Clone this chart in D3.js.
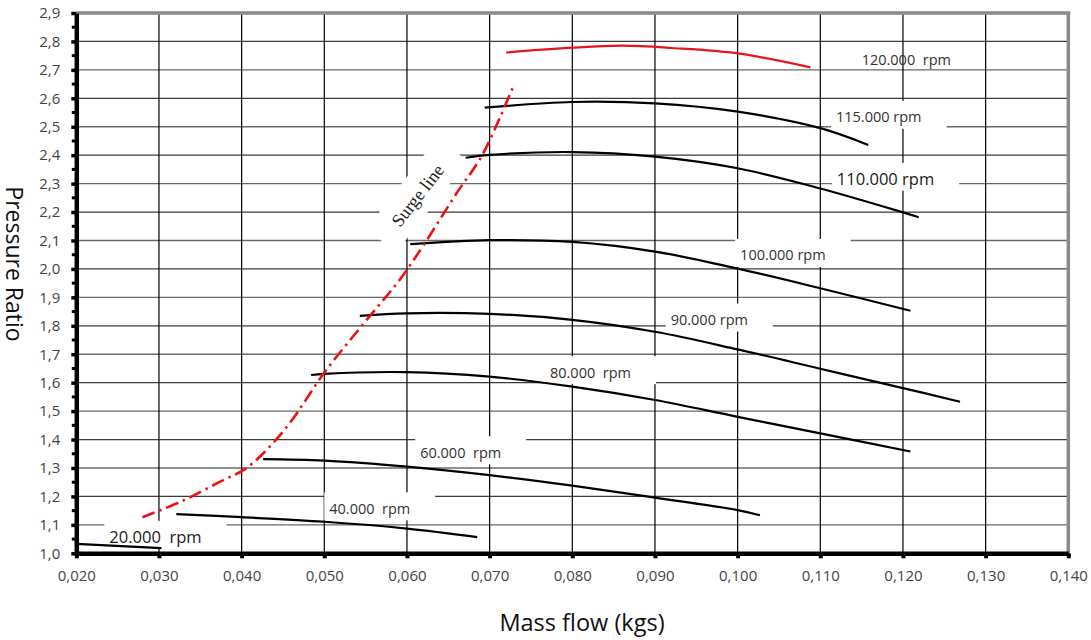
<!DOCTYPE html>
<html><head><meta charset="utf-8">
<script src="https://cdn.jsdelivr.net/npm/d3@7"></script>
<style>body{margin:0;background:#fff}</style>
</head><body><svg id="c" width="1091" height="640"></svg>
<script>
// ---------- data ----------
const xTicks = [0.020,0.030,0.040,0.050,0.060,0.070,0.080,0.090,0.100,0.110,0.120,0.130,0.140];
const yTicks = [1.0,1.1,1.2,1.3,1.4,1.5,1.6,1.7,1.8,1.9,2.0,2.1,2.2,2.3,2.4,2.5,2.6,2.7,2.8,2.9];

const flow20  = [0.0200, 0.0303];
const pr20    = [1.033, 1.018];
const flow40  = [0.0321, 0.040, 0.050, 0.060, 0.0685];
const pr40    = [1.138, 1.127, 1.111, 1.087, 1.057];
const flow60  = [0.0426, 0.050, 0.060, 0.070, 0.080, 0.090, 0.100, 0.1027];
const pr60    = [1.331, 1.326, 1.305, 1.275, 1.238, 1.196, 1.152, 1.134];
const flow80  = [0.0484, 0.050, 0.060, 0.070, 0.080, 0.090, 0.100, 0.110, 0.1209];
const pr80    = [1.627, 1.631, 1.637, 1.621, 1.586, 1.539, 1.480, 1.422, 1.358];
const flow90  = [0.0543, 0.060, 0.070, 0.080, 0.090, 0.100, 0.110, 0.120, 0.1269];
const pr90    = [1.835, 1.844, 1.842, 1.821, 1.779, 1.717, 1.649, 1.581, 1.533];
const flow100 = [0.0604, 0.070, 0.080, 0.090, 0.100, 0.110, 0.1209];
const pr100   = [2.087, 2.101, 2.095, 2.061, 2.001, 1.932, 1.853];
const flow110 = [0.0671, 0.070, 0.080, 0.090, 0.100, 0.110, 0.120, 0.1219];
const pr110   = [2.391, 2.401, 2.411, 2.395, 2.354, 2.283, 2.199, 2.182];
const flow115 = [0.0694, 0.080, 0.090, 0.100, 0.110, 0.1158];
const pr115   = [2.567, 2.587, 2.582, 2.553, 2.495, 2.436];
const flow120 = [0.0720, 0.080, 0.086, 0.092, 0.100, 0.1088];
const pr120   = [2.761, 2.778, 2.785, 2.777, 2.758, 2.709];

const surgeFlow = [0.0280, 0.0326, 0.0374, 0.0405, 0.0430, 0.0458, 0.0501, 0.0553, 0.0591, 0.0621, 0.0660, 0.0690, 0.0713, 0.0728];
const surgePR   = [1.127, 1.181, 1.252, 1.298, 1.363, 1.457, 1.639, 1.827, 1.961, 2.088, 2.266, 2.395, 2.536, 2.638];

const speedLabels = ["20.000  rpm","40.000  rpm","60.000  rpm","80.000  rpm","90.000 rpm","100.000 rpm","110.000 rpm","115.000 rpm","120.000  rpm"];
const labelFlow   = [0.0240, 0.0506, 0.0616, 0.0773, 0.0919, 0.1003, 0.1120, 0.1119, 0.1150];
const labelPR     = [1.058, 1.158, 1.355, 1.637, 1.822, 2.049, 2.317, 2.535, 2.735];
const surgeLabel = "Surge line";
const surgeLabelFlow = 0.0613, surgeLabelPR = 2.258;

const xTitle = "Mass flow (kgs)";
const yTitle = "Pressure Ratio";

// ---------- build ----------
const series = [
  {f:flow20,p:pr20,c:"#000"},{f:flow40,p:pr40,c:"#000"},{f:flow60,p:pr60,c:"#000"},
  {f:flow80,p:pr80,c:"#000"},{f:flow90,p:pr90,c:"#000"},{f:flow100,p:pr100,c:"#000"},
  {f:flow110,p:pr110,c:"#000"},{f:flow115,p:pr115,c:"#000"},{f:flow120,p:pr120,c:"#e8141b"}
].map(s => ({pts: s.f.map((v,i)=>[v, s.p[i]]), color: s.c}));

const svg = d3.select("#c");
svg.append("rect").attr("width",1091).attr("height",640).attr("fill","#fff");

const x = d3.scaleLinear().domain([0.02,0.14]).range([76.3,1068.3]);
const y = d3.scaleLinear().domain([1.0,2.9]).range([553.3,13]);

const loc = d3.formatLocale({decimal:",",thousands:".",grouping:[3],currency:["",""]});
const fx = loc.format(".3f"), fy = loc.format(".1f");

// grid
const grid = svg.append("g");
grid.selectAll("line.h").data(yTicks.slice(1,-1)).join("line")
  .attr("x1",x(0.02)).attr("x2",x(0.14)).attr("y1",d=>y(d)).attr("y2",d=>y(d))
  .attr("stroke",(d,i)=> i%2 ? "#3a3a3a" : "#6a6a6a").attr("stroke-width",1.3);
grid.selectAll("line.v").data(xTicks.slice(1,-1)).join("line")
  .attr("y1",y(1.0)).attr("y2",y(2.9)).attr("x1",d=>x(d)).attr("x2",d=>x(d))
  .attr("stroke","#000").attr("stroke-width",1.2);

// borders top/right (gray)
svg.append("line").attr("x1",x(0.02)).attr("x2",x(0.14)+2).attr("y1",y(2.9)).attr("y2",y(2.9))
  .attr("stroke","#8a8a8a").attr("stroke-width",3.5);
svg.append("line").attr("x1",x(0.14)).attr("x2",x(0.14)).attr("y1",y(2.9)).attr("y2",y(1.0))
  .attr("stroke","#8a8a8a").attr("stroke-width",3.5);

const lblFont = "'Open Sans', 'Noto Sans', sans-serif";
const boxG = svg.append("g");
const textG = svg.append("g");

// surge label box (rotated)
const sx = x(surgeLabelFlow), sy = y(surgeLabelPR);
svg.append("g").attr("transform",`translate(${sx},${sy}) rotate(-52)`)
  .append("rect").attr("x",-58).attr("y",-20).attr("width",116).attr("height",38).attr("fill","#fff");

const line = d3.line().x(d=>x(d[0])).y(d=>y(d[1])).curve(d3.curveCatmullRom.alpha(0.5));
const curveG = svg.append("g");

speedLabels.forEach((t,i)=>{
  const big = (t.startsWith("110") || t.startsWith("20."));
  const tx = textG.append("text").attr("x",x(labelFlow[i])).attr("y",y(labelPR[i]))
    .attr("dominant-baseline","central").attr("xml:space","preserve").style("white-space","pre")
    .attr("font-family",lblFont).attr("font-size", big ? 16.5 : 14.5)
    .attr("fill", big ? "#1a1a1a" : "#333").text(t);
  if (!t.startsWith("120")) {
    const w = tx.node().getComputedTextLength();
    boxG.append("rect").attr("x",x(labelFlow[i])-5).attr("y",y(labelPR[i])-16)
      .attr("width",w+30).attr("height",28).attr("fill","#fff");
  }
});

curveG.selectAll("path.s").data(series).join("path")
  .attr("d",d=>line(d.pts)).attr("fill","none")
  .attr("stroke",d=>d.color).attr("stroke-width",2.2).attr("stroke-linecap","butt");

const surgePts = surgeFlow.map((v,i)=>[v, surgePR[i]]);
curveG.append("path").attr("d",line(surgePts)).attr("fill","none")
  .attr("stroke","#ee1111").attr("stroke-width",2.6).attr("stroke-dasharray","13,5,2.5,5");

// surge label text
svg.append("g").attr("transform",`translate(${sx},${sy}) rotate(-52)`)
  .append("text").attr("text-anchor","middle").attr("dominant-baseline","central")
  .attr("font-family","'Liberation Serif','DejaVu Serif',serif").attr("font-size",18)
  .attr("fill","#222").text(surgeLabel);

// axes
const xAxis = d3.axisBottom(x).tickValues(xTicks).tickFormat(fx).tickSize(5).tickSizeOuter(0).tickPadding(12);
const gx = svg.append("g").attr("transform",`translate(0,${y(1.0)})`).call(xAxis);
gx.select(".domain").attr("stroke","#000").attr("stroke-width",4.5);
gx.selectAll(".tick line").attr("stroke","#000").attr("stroke-width",4);
gx.selectAll(".tick text").attr("font-family",lblFont).attr("font-size",15).attr("fill","#444");

const yAxis = d3.axisLeft(y).tickValues(yTicks).tickFormat(fy).tickSize(5).tickSizeOuter(0).tickPadding(11);
const gy = svg.append("g").attr("transform",`translate(${x(0.02)},0)`).call(yAxis);
gy.select(".domain").attr("stroke","#000").attr("stroke-width",4.5);
gy.selectAll(".tick line").attr("stroke","#000").attr("stroke-width",3.5);
gy.selectAll(".tick text").attr("font-family",lblFont).attr("font-size",15).attr("fill","#444");
const minor = yTicks.slice(0,-1).map(v=>v+0.05);
svg.append("g").selectAll("line").data(minor).join("line")
  .attr("x1",x(0.02)-4.5).attr("x2",x(0.02)).attr("y1",d=>y(d)).attr("y2",d=>y(d))
  .attr("stroke","#000").attr("stroke-width",3);

// titles
svg.append("text").attr("x",582).attr("y",622).attr("text-anchor","middle").attr("dominant-baseline","central")
  .attr("font-family",lblFont).attr("font-size",23.5).attr("fill","#111").text(xTitle);
svg.append("text").attr("transform","translate(15,264) rotate(90)").attr("text-anchor","middle")
  .attr("dominant-baseline","central").attr("font-family",lblFont).attr("font-size",23)
  .attr("fill","#111").text(yTitle);
</script></body></html>
